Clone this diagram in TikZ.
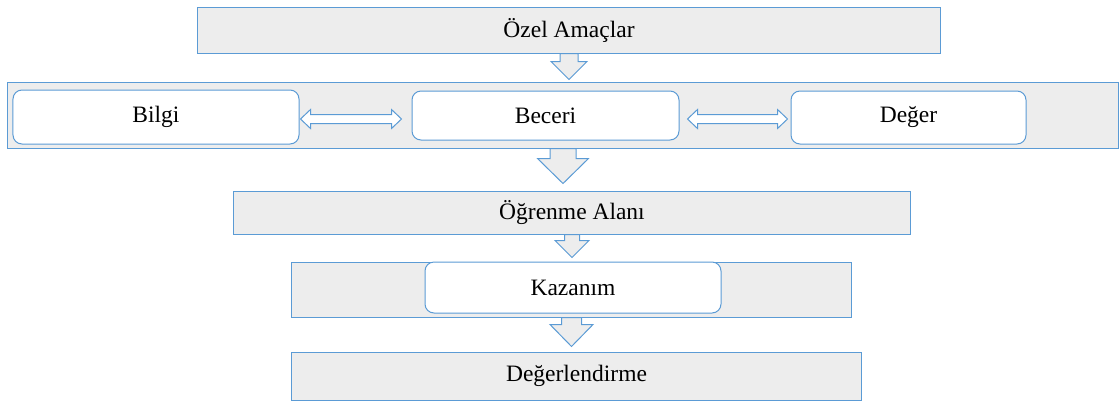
\documentclass[tikz,border=0pt]{standalone}
\usepackage{fontspec}
\setmainfont{Liberation Serif}
\usetikzlibrary{calc}

\definecolor{kenar}{HTML}{5B9BD5}
\definecolor{dolgu}{HTML}{EDEDED}

% down block arrow under a node: node, shaft half, head half, shaft length, head length
\newcommand{\asagi}[5]{%
  \draw[block arrow] (#1.south) ++(-#2,0) -- ++(0,#4) -- ++(#2-#3,0) -- ++(#3,#5)
    -- ++(#3,-#5) -- ++(#2-#3,0) -- ++(0,-#4) -- cycle;}
% left-right block arrow: left tip, length
\newcommand{\iki}[2]{%
  \draw[side arrow] (#1) -- ++(10,-9.5) -- ++(0,5) -- ++({#2-20},0) -- ++(0,-5)
    -- ++(10,9.5) -- ++(-10,9.5) -- ++(0,-5) -- ++({20-#2},0) -- ++(0,5) -- cycle;}

\begin{document}
\begin{tikzpicture}[x=1bp, y=-1bp, line width=1bp,
    gray box/.style={rectangle,draw=kenar,fill=dolgu,inner sep=0pt,font=\fontsize{23.5bp}{28bp}\selectfont},
    white box/.style={gray box,fill=white,rounded corners=9bp},
    block arrow/.style={draw=kenar,fill=dolgu,line join=miter},
    side arrow/.style={draw=kenar,fill=white,line join=miter}]
    \useasboundingbox (0,0) rectangle (1119,401);

    \node[gray box, minimum width=742bp, minimum height=46bp] (ozel) at (569,30) {Özel Amaçlar};
    \node[gray box, minimum width=1110bp, minimum height=66bp] (boyut) at (563,115) {};
    \node[white box, minimum width=286bp, minimum height=54bp] (bilgi) at (156,117) {Bilgi};
    \node[white box, minimum width=267bp, minimum height=49bp] (beceri) at (545.5,115.5) {Beceri};
    \node[white box, minimum width=235bp, minimum height=53bp] (deger) at (908.5,117.5) {Değer};
    \node[gray box, minimum width=676bp, minimum height=43bp] (ogrenme) at (572,212.5) {Öğrenme Alanı};
    \node[gray box, minimum width=559bp, minimum height=55bp] (kazdis) at (571.5,289.5) {};
    \node[white box, minimum width=296bp, minimum height=51bp] (kazanim) at (573,287.5) {Kazanım};
    \node[gray box, minimum width=569bp, minimum height=48bp] (olcme) at (576.5,376) {Değerlendirme};

    \asagi{ozel}{9}{18}{8}{18}
    \asagi{boyut}{13}{25.5}{10}{25}
    \asagi{ogrenme}{7.5}{17}{6}{17}
    \asagi{kazdis}{10}{21.5}{7}{22}

    \iki{$(bilgi.east)+(1,2)$}{101}
    \iki{$(beceri.east)+(8,3.5)$}{100}
\end{tikzpicture}
\end{document}
